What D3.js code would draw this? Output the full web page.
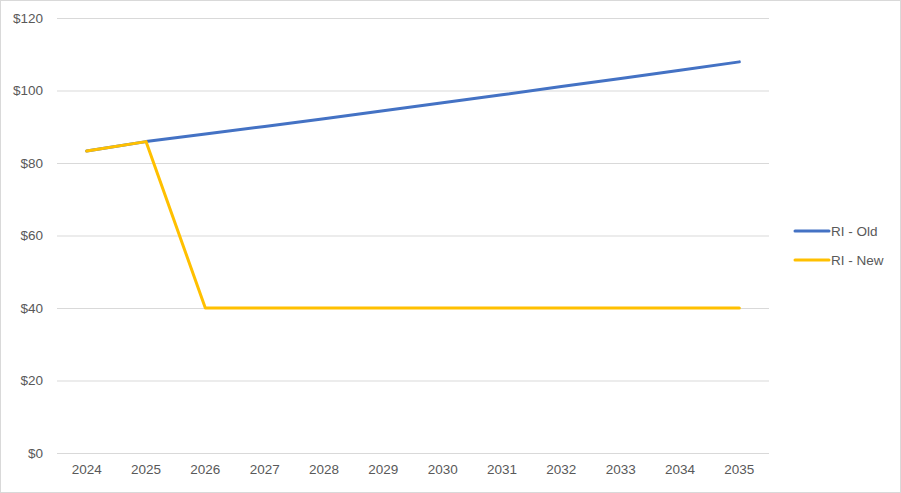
<!DOCTYPE html>
<html>
<head>
<meta charset="utf-8">
<script src="https://cdn.jsdelivr.net/npm/d3@7"></script>
<style>
  html, body { margin: 0; padding: 0; background: #fff; }
  svg text { font-family: "Liberation Sans", Arial, sans-serif; fill: #595959; }
</style>
</head>
<body>
<div id="chart"></div>
<script>
var years = ["2024", "2025", "2026", "2027", "2028", "2029", "2030", "2031", "2032", "2033", "2034", "2035"];
var riOld = [83.3, 85.9, 88.0, 90.1, 92.2, 94.4, 96.6, 98.8, 101.1, 103.3, 105.6, 107.9];
var riNew = [83.3, 85.9, 40, 40, 40, 40, 40, 40, 40, 40, 40, 40];
var yTicks = [0, 20, 40, 60, 80, 100, 120];
var seriesNames = ["RI - Old", "RI - New"];
var seriesColors = ["#4472C4", "#FFC000"];

(function() {
  var W = 901, H = 493;
  var padl = 57, padr = 132, padt = 18, padb = 40;

  var svg = d3.select('#chart').append('svg')
    .attr('width', W).attr('height', H);

  svg.append('rect')
    .attr('x', 0.5).attr('y', 0.5)
    .attr('width', W - 1).attr('height', H - 1)
    .attr('fill', '#fff').attr('stroke', '#d9d9d9');

  var x = d3.scaleBand().domain(years).range([padl, W - padr]);
  var y = d3.scaleLinear().domain([0, 120]).range([H - padb, padt]);

  // gridlines + y labels
  var yAxis = d3.axisLeft(y).tickValues(yTicks).tickSize(-(W - padr - padl)).tickPadding(14)
    .tickFormat(function(d) { return "$" + d; });
  var yg = svg.append('g').attr('transform', 'translate(' + padl + ',0)').call(yAxis);
  yg.select('.domain').remove();
  yg.selectAll('line').attr('stroke', '#d9d9d9');
  yg.selectAll('text').style('font-size', '13.5px').attr('fill', '#595959');

  var xAxis = d3.axisBottom(x).tickSize(0).tickPadding(11);
  var xg = svg.append('g').attr('transform', 'translate(0,' + (H - padb) + ')').call(xAxis);
  xg.select('.domain').remove();
  xg.selectAll('text').style('font-size', '13.5px').attr('fill', '#595959');

  var line = d3.line()
    .x(function(d, i) { return x(years[i]) + x.bandwidth() / 2; })
    .y(function(d) { return y(d); });

  [riOld, riNew].forEach(function(s, i) {
    svg.append('path').datum(s)
      .attr('d', line)
      .attr('fill', 'none')
      .attr('stroke', seriesColors[i])
      .attr('stroke-width', 3)
      .attr('stroke-linecap', 'round')
      .attr('stroke-linejoin', 'round');
  });

  // legend
  var leg = svg.append('g').attr('transform', 'translate(795,231)');
  seriesNames.forEach(function(name, i) {
    var g = leg.append('g').attr('transform', 'translate(0,' + (i * 29) + ')');
    g.append('line').attr('x1', 0).attr('x2', 34).attr('y1', 0).attr('y2', 0)
      .attr('stroke', seriesColors[i]).attr('stroke-width', 3).attr('stroke-linecap', 'round');
    g.append('text').attr('x', 36).attr('y', 5).style('font-size', '13.5px').text(name);
  });
})();
</script>
</body>
</html>
